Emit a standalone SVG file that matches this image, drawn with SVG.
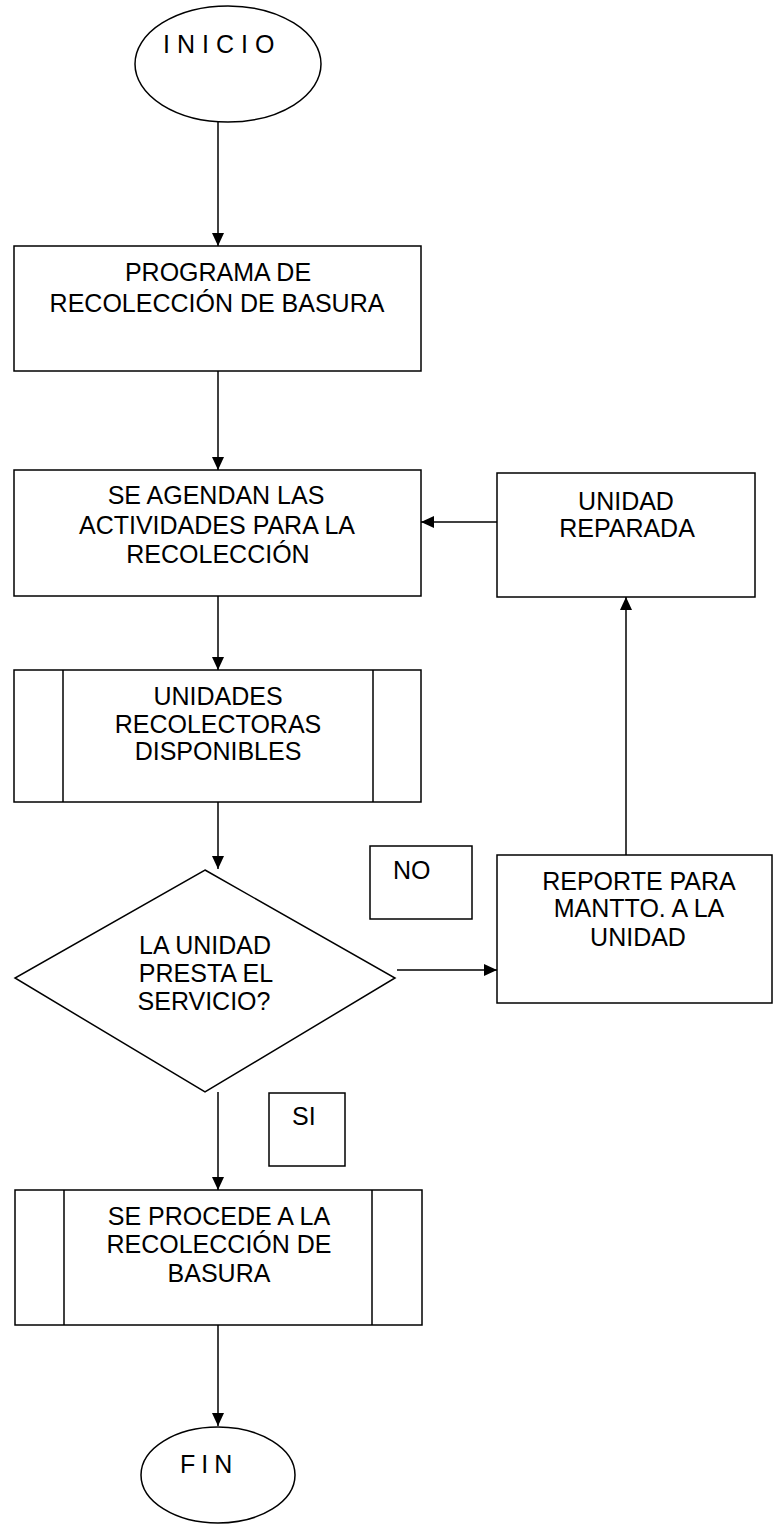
<svg xmlns="http://www.w3.org/2000/svg" width="773" height="1524" viewBox="0 0 773 1524">
<style>
.s{fill:#fff;stroke:#000;stroke-width:1.5}
.t{font-family:"Liberation Sans",Arial,sans-serif;font-size:25px;fill:#000;text-anchor:middle}
.ts{font-family:"Liberation Sans",Arial,sans-serif;font-size:25px;fill:#000}
.c{fill:none;stroke:#000;stroke-width:1.5}
</style>
<defs>
<marker id="ah" markerUnits="userSpaceOnUse" markerWidth="13" markerHeight="12" refX="13" refY="6" orient="auto">
<path d="M0,0 L13,6 L0,12 z" fill="#000"/>
</marker>
</defs>
<rect width="773" height="1524" fill="#fff"/>
<g id="connectors">
<line class="c" x1="218" y1="122" x2="218" y2="246" marker-end="url(#ah)"/>
<line class="c" x1="218" y1="371" x2="218" y2="470" marker-end="url(#ah)"/>
<line class="c" x1="218" y1="596" x2="218" y2="670" marker-end="url(#ah)"/>
<line class="c" x1="218" y1="802" x2="218" y2="869" marker-end="url(#ah)"/>
<line class="c" x1="397" y1="970" x2="497" y2="970" marker-end="url(#ah)"/>
<line class="c" x1="626" y1="855" x2="626" y2="597" marker-end="url(#ah)"/>
<line class="c" x1="497" y1="522" x2="421" y2="522" marker-end="url(#ah)"/>
<line class="c" x1="218" y1="1092" x2="218" y2="1190" marker-end="url(#ah)"/>
<line class="c" x1="218" y1="1325" x2="218" y2="1426" marker-end="url(#ah)"/>
</g>
<g id="inicio">
<ellipse class="s" cx="228" cy="64" rx="93" ry="58"/>
<text class="ts" x="163" y="53" letter-spacing="7">INICIO</text>
</g>
<g id="programa">
<rect class="s" x="14" y="246" width="407" height="125"/>
<text class="t" x="218" y="281">PROGRAMA DE</text>
<text class="t" x="217" y="312">RECOLECCIÓN DE BASURA</text>
</g>
<g id="agendan">
<rect class="s" x="14" y="470" width="407" height="126"/>
<text class="t" x="216" y="504">SE AGENDAN LAS</text>
<text class="t" x="217" y="534">ACTIVIDADES PARA LA</text>
<text class="t" x="218" y="563">RECOLECCIÓN</text>
</g>
<g id="reparada">
<rect class="s" x="497" y="473" width="258" height="124"/>
<text class="t" x="626" y="510">UNIDAD</text>
<text class="t" x="627" y="537">REPARADA</text>
</g>
<g id="unidades">
<rect class="s" x="14" y="670" width="407" height="132"/>
<line class="c" x1="63" y1="670" x2="63" y2="802"/>
<line class="c" x1="373" y1="670" x2="373" y2="802"/>
<text class="t" x="218" y="705">UNIDADES</text>
<text class="t" x="218" y="733">RECOLECTORAS</text>
<text class="t" x="218" y="760">DISPONIBLES</text>
</g>
<g id="decision">
<polygon class="s" points="205,870 395,978 205,1092 15,978"/>
<text class="t" x="205" y="954">LA UNIDAD</text>
<text class="t" x="206" y="982">PRESTA EL</text>
<text class="t" x="204" y="1010">SERVICIO?</text>
</g>
<g id="no">
<rect class="s" x="370" y="846" width="102" height="73"/>
<text class="ts" x="393" y="879">NO</text>
</g>
<g id="reporte">
<rect class="s" x="497" y="855" width="275" height="148"/>
<text class="t" x="639" y="890">REPORTE PARA</text>
<text class="t" x="639" y="917">MANTTO. A LA</text>
<text class="t" x="638" y="946">UNIDAD</text>
</g>
<g id="si">
<rect class="s" x="269" y="1093" width="76" height="73"/>
<text class="ts" x="292" y="1125">SI</text>
</g>
<g id="procede">
<rect class="s" x="15" y="1190" width="407" height="135"/>
<line class="c" x1="64" y1="1190" x2="64" y2="1325"/>
<line class="c" x1="372" y1="1190" x2="372" y2="1325"/>
<text class="t" x="219" y="1225">SE PROCEDE A LA</text>
<text class="t" x="219" y="1253">RECOLECCIÓN DE</text>
<text class="t" x="219" y="1282">BASURA</text>
</g>
<g id="fin">
<ellipse class="s" cx="218" cy="1475" rx="77" ry="48"/>
<text class="ts" x="180" y="1473" letter-spacing="6">FIN</text>
</g>
</svg>
